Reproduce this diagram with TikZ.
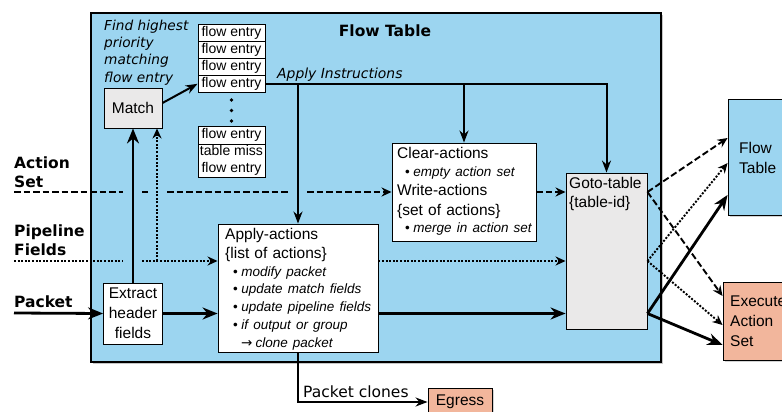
\documentclass[tikz,border=0pt]{standalone}
\usepackage{fontspec}
\setmainfont{Liberation Sans}
\newfontfamily\dejavu{DejaVu Sans}
\usetikzlibrary{positioning,arrows.meta,shadows}
\definecolor{tableblue}{RGB}{156,213,240}
\definecolor{execsalmon}{RGB}{242,182,156}
\definecolor{boxgray}{RGB}{234,233,233}

\newcommand{\boxfont}{\fontsize{15.5}{20}\selectfont}
\newcommand{\mainrow}[1]{{\fontsize{15.5}{19.5}\selectfont #1\par}}
\newcommand{\itemrow}[1]{{\fontsize{13.5}{17.7}\selectfont\hspace*{8pt}\textbullet\hspace{3.5pt}\textit{#1}\par}}
\newcommand{\clonerow}[1]{{\fontsize{13.5}{17.7}\selectfont\hspace*{16pt}{\dejavu →}\hspace{3pt}\textit{#1}\par}}

\begin{document}
\begin{tikzpicture}[x=1pt,y=-1pt,
  box/.style={draw,line width=0.9pt,fill=white,inner sep=0pt,font=\boxfont},
  entry/.style={box,minimum width=67pt,minimum height=17pt,font=\fontsize{14}{17}\selectfont},
  sidelabel/.style={font=\dejavu\bfseries\fontsize{15.5}{19}\selectfont,align=left,anchor=base west,inner sep=0pt},
  txt/.style={inner sep=0pt,anchor=base west,align=left,font=\boxfont},
  shade/.style={drop shadow={shadow xshift=1.5pt,shadow yshift=-1.5pt,opacity=0.35}},
  pkt/.style={line width=2.8pt,-{Stealth[length=15pt,width=12pt]}},
  instr/.style={line width=2pt,-{Stealth[length=12pt,width=9pt]}},
  actset/.style={line width=1.9pt,dash pattern=on 6.5pt off 3pt,-{Stealth[length=10pt,width=9pt]}},
  fields/.style={line width=1.9pt,dash pattern=on 2pt off 1.6pt,-{Stealth[length=10pt,width=9pt]}}]
\clip (0,0) rectangle (782,412);

% flow table
\node[draw,line width=2.6pt,fill=tableblue,minimum width=570pt,minimum height=349pt,
  drop shadow={shadow xshift=2pt,shadow yshift=-2pt,opacity=0.45}] (ftable) at (376,187.5) {};
\node[font=\dejavu\bfseries\fontsize{15.5}{19}\selectfont] (fttitle) at (385,31) {Flow Table};
% multi-line nodes sit on their last line
\node[txt,font=\dejavu\itshape\fontsize{13.7}{17.5}\selectfont] (findtxt) at (104,82.5) {Find highest\\priority\\matching\\flow entry};

% flow entries
\foreach \i/\y in {1/32.8,2/49.8,3/66.8,4/83.8}
  \node[entry] (fe\i) at (231.5,\y) {flow entry};
\foreach \y in {100,110.5,121}
  \fill (231.5,\y) circle (1.9pt);
\node[entry,minimum height=18pt] (fe5) at (231.5,135.3) {flow entry};
\node[entry,minimum height=32.7pt,align=center] (femiss) at (231.5,160.65) {table miss\\flow entry};

\node[box,fill=boxgray,minimum width=58pt,minimum height=40pt] (match) at (133,108) {Match};
\node[box,minimum width=59pt,minimum height=61pt,align=center] (extract) at (133,313.5) {Extract\\header\\fields};
\node[box,minimum width=144pt,minimum height=98pt] (clear) at (464,192) {};
\node[box,minimum width=160pt,minimum height=128pt] (apply) at (298,288) {};
\node[box,fill=boxgray,minimum width=81pt,minimum height=156pt] (goto) at (606.5,251) {};

\node[txt,text width=140pt] (cleartxt) at (397,158.3) {\mainrow{Clear-actions}\itemrow{empty action set}\mainrow{Write-actions}\mainrow{\{set of actions\}}\itemrow{merge in action set}};
\node[txt,text width=152pt] (applytxt) at (225,239) {\mainrow{Apply-actions}\mainrow{\{list of actions\}}\itemrow{modify packet}\itemrow{update match fields}\itemrow{update pipeline fields}\itemrow{if output or group}\clonerow{clone packet}};
\node[txt,font=\fontsize{15.5}{19.5}\selectfont] (gototxt) at (569,207.7) {Goto-table\\\{table-id\}};
\node[txt,font=\dejavu\itshape\fontsize{13.9}{17}\selectfont] (instrtxt) at (277,78) {Apply Instructions};

% outside the table
\node[box,fill=tableblue,shade,minimum width=80pt,minimum height=116pt] (flowtab) at (768,157) {};
\node[txt] (flowtabtxt) at (739,173) {Flow\\Table};
\node[box,fill=execsalmon,shade,minimum width=80pt,minimum height=78pt] (exec) at (763,321) {};
\node[txt] (exectxt) at (730,346.7) {Execute\\Action\\Set};
\node[box,fill=execsalmon,shade,minimum width=64pt,minimum height=28pt] (egress) at (460,402) {Egress};
\node[txt,font=\dejavu\fontsize{15.5}{19}\selectfont] (clonestxt) at (303,397) {Packet clones};

\node[sidelabel] (actlabel) at (14,187) {Action\\Set};
\node[sidelabel] (pipelabel) at (14,255) {Pipeline\\Fields};
\node[sidelabel] (pktlabel) at (14,307) {Packet};
\coordinate (asin) at (14,192);
\coordinate (pfin) at (14,261);
\coordinate (pktin) at (14,313);

% instructions
\draw[instr] ([yshift=5pt]match.east) -- (fe4.west);
\draw[instr] (fe4.east) -| (goto.north);
\draw[instr] (apply.north |- fe4.east) -- (apply.north);
\draw[instr] (clear.north |- fe4.east) -- (clear.north);

% action set
\draw[actset] (asin) -- ([xshift=-10pt]match.south |- asin)
  ([xshift=9pt]match.south |- asin) -- ([xshift=15pt]match.south |- asin)
  ([xshift=34pt]match.south |- asin) -- ([xshift=-10pt]apply.north |- asin)
  ([xshift=9pt]apply.north |- asin) -- (clear.west);
\draw[actset] (clear.east) -- (goto.west |- clear.east);

% pipeline fields
\draw[fields] (pfin) -- ([xshift=-10pt]match.south |- pfin)
  ([xshift=9pt]match.south |- pfin) -- (apply.west |- pfin);
\draw[fields] ([xshift=24pt]match.south |- pfin) -- ([xshift=24pt]match.south);
\draw[fields] (apply.east |- pfin) -- (goto.west |- pfin);

% packet
\draw[pkt] (pktin) -- (extract.west);
\draw[pkt] (extract.north) -- (match.south);
\draw[pkt] (extract.east) -- (apply.west |- extract.east);
\draw[pkt] (apply.east |- extract.east) -- (goto.west |- extract.east);
\draw[instr] (apply.south) |- (egress.west);

% leaving the table
\draw[actset] (goto.east |- clear.east) -- ([yshift=19pt]flowtab.west);
\draw[actset] (goto.east |- clear.east) -- ([yshift=25pt]exec.west);
\draw[fields] (goto.east |- pfin) -- ([yshift=-6pt]flowtab.west);
\draw[fields] (goto.east |- pfin) -- ([yshift=-4pt]exec.west);
\draw[pkt] (goto.east |- extract.east) -- ([yshift=-38pt]flowtab.west);
\draw[pkt] (goto.east |- extract.east) -- ([yshift=-24pt]exec.west);
\end{tikzpicture}
\end{document}
